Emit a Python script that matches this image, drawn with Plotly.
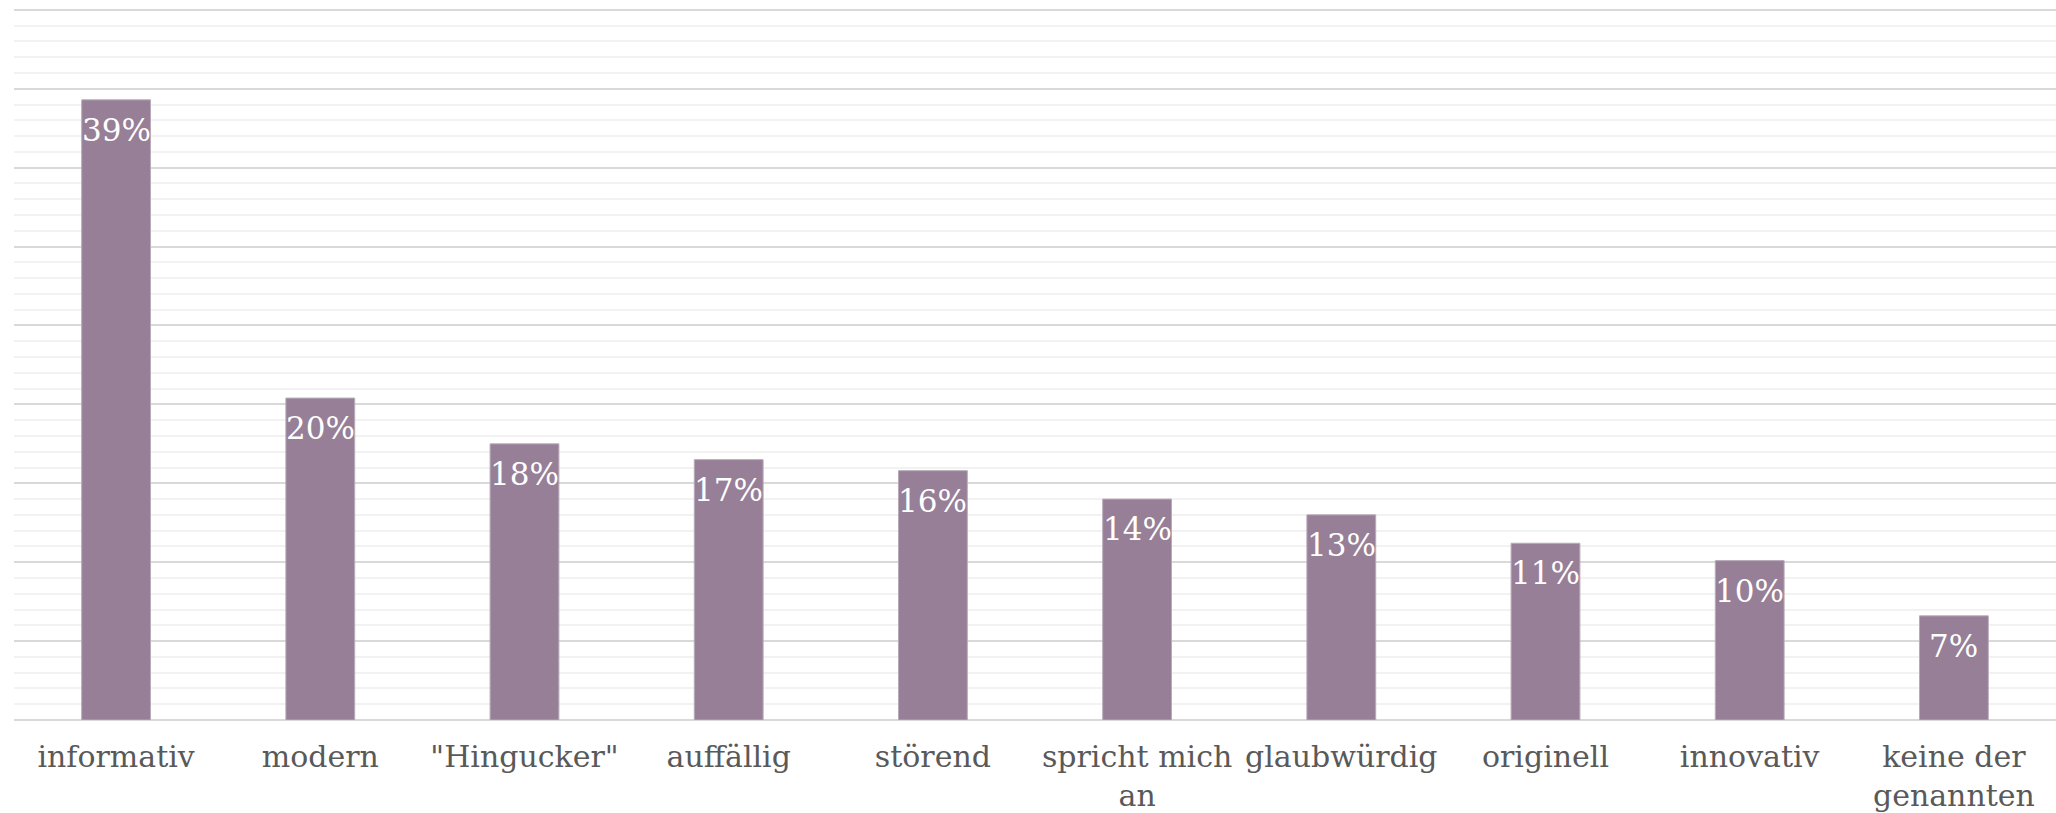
import plotly.graph_objects as go

categories = ["informativ", "modern", "\"Hingucker\"", "auffällig", "störend",
              "spricht mich an", "glaubwürdig", "originell", "innovativ", "keine der genannten"]
tick_labels = ["informativ", "modern", "\"Hingucker\"", "auffällig", "störend",
               "spricht mich<br>an", "glaubwürdig", "originell", "innovativ", "keine der<br>genannten"]
values = [39.3, 20.4, 17.5, 16.5, 15.8, 14.0, 13.0, 11.2, 10.1, 6.6]
value_labels = ["39%", "20%", "18%", "17%", "16%", "14%", "13%", "11%", "10%", "7%"]

FONT = "DejaVu Serif"
BAR = "#967F97"

fig = go.Figure()
fig.add_trace(go.Bar(
    x=categories, y=values,
    marker=dict(color=BAR, line=dict(color="#b9abba", width=1)),
    hoverinfo="skip",
))

for c, v, t in zip(categories, values, value_labels):
    fig.add_annotation(x=c, y=v, text=t, showarrow=False, yanchor="top",
                       yshift=-10, font=dict(family=FONT, size=31, color="white"))

fig.update_layout(
    width=2056, height=813,
    margin=dict(l=14, r=0, t=2, b=91),
    paper_bgcolor="white", plot_bgcolor="white",
    bargap=0.663,
    showlegend=False,
    font=dict(family=FONT, color="#595959"),
    xaxis=dict(
        tickmode="array", tickvals=categories, ticktext=tick_labels,
        tickfont=dict(family=FONT, size=30, color="#595959"),
        showgrid=False, showline=False, ticks="", ticklabelstandoff=16,
    ),
    yaxis=dict(
        range=[0, 45.5], dtick=5, showticklabels=False,
        showgrid=True, gridcolor="#d9d9d9", gridwidth=1.5,
        zeroline=True, zerolinecolor="#d9d9d9", zerolinewidth=2,
        minor=dict(dtick=1, showgrid=True, gridcolor="#f2f2f2", gridwidth=1.5),
    ),
)

fig.write_html("out.html")
